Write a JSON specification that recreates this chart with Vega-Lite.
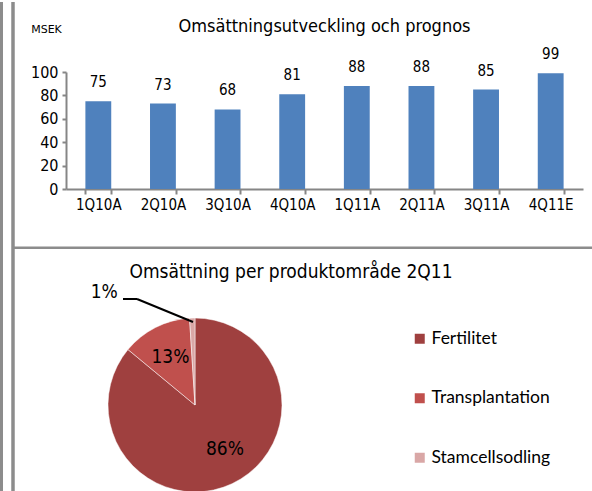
{
  "$schema": "https://vega.github.io/schema/vega-lite/v6.json",
  "padding": 0,
  "spacing": 128,
  "bounds": "flush",
  "background": "#ffffff",
  "config": {
    "view": {"stroke": null},
    "font": "DejaVu Sans Condensed, DejaVu Sans"
  },
  "vconcat": [
    {
      "width": 517,
      "height": 117,
      "title": {
        "text": "Omsättningsutveckling och prognos",
        "font": "DejaVu Sans Condensed, DejaVu Sans",
        "fontSize": 18,
        "fontWeight": "normal",
        "color": "#000000",
        "anchor": "middle",
        "offset": 0,
        "dy": 13
      },
      "data": {
        "values": [
          {"kvartal": "1Q10A", "msek": 75},
          {"kvartal": "2Q10A", "msek": 73},
          {"kvartal": "3Q10A", "msek": 68},
          {"kvartal": "4Q10A", "msek": 81},
          {"kvartal": "1Q11A", "msek": 88},
          {"kvartal": "2Q11A", "msek": 88},
          {"kvartal": "3Q11A", "msek": 85},
          {"kvartal": "4Q11E", "msek": 99}
        ]
      },
      "encoding": {
        "x": {
          "field": "kvartal",
          "type": "ordinal",
          "sort": null,
          "scale": {"paddingInner": 0.6, "paddingOuter": 0.3},
          "axis": {
            "title": null,
            "labelAngle": 0,
            "labelFont": "DejaVu Sans Condensed, DejaVu Sans",
            "labelFontSize": 15,
            "labelColor": "#000000",
            "labelPadding": 3,
            "domainColor": "#868686",
            "domainWidth": 2,
            "tickColor": "#868686",
            "tickWidth": 2,
            "tickSize": 5,
            "tickBand": "extent"
          }
        },
        "y": {
          "field": "msek",
          "type": "quantitative",
          "scale": {"domain": [0, 100]},
          "axis": {
            "values": [0, 20, 40, 60, 80, 100],
            "grid": false,
            "labelFont": "DejaVu Sans Condensed, DejaVu Sans",
            "labelFontSize": 16,
            "labelColor": "#000000",
            "labelPadding": 4,
            "domainColor": "#868686",
            "domainWidth": 2,
            "tickColor": "#868686",
            "tickWidth": 2,
            "tickSize": 4,
            "title": "MSEK",
            "titleAngle": 0,
            "titleFont": "DejaVu Sans",
            "titleFontSize": 11,
            "titleFontWeight": "normal",
            "titleColor": "#000000",
            "titleAlign": "center",
            "titleBaseline": "middle",
            "titleX": -20,
            "titleY": -43
          }
        }
      },
      "layer": [
        {"mark": {"type": "bar", "color": "#4f81bd"}},
        {
          "mark": {
            "type": "text",
            "baseline": "alphabetic",
            "dy": -14,
            "font": "DejaVu Sans Condensed, DejaVu Sans",
            "fontSize": 15,
            "color": "#000000"
          },
          "encoding": {"text": {"field": "msek", "type": "quantitative"}}
        }
      ]
    },
    {
      "width": 258,
      "height": 176,
      "title": {
        "text": "Omsättning per produktområde 2Q11",
        "font": "DejaVu Sans Condensed, DejaVu Sans",
        "fontSize": 19,
        "fontWeight": "normal",
        "color": "#000000",
        "anchor": "middle",
        "offset": 0,
        "dx": 96,
        "dy": 282
      },
      "data": {
        "values": [
          {"omrade": "Fertilitet", "andel": 0.86},
          {"omrade": "Transplantation", "andel": 0.13},
          {"omrade": "Stamcellsodling", "andel": 0.01}
        ]
      },
      "layer": [
        {
          "mark": {"type": "arc", "outerRadius": 87, "stroke": "#ffffff", "strokeWidth": 0.5},
          "encoding": {
            "theta": {"field": "andel", "type": "quantitative", "stack": true},
            "order": {"field": "andel", "sort": "descending"},
            "color": {
              "field": "omrade",
              "type": "nominal",
              "scale": {
                "domain": ["Fertilitet", "Transplantation", "Stamcellsodling"],
                "range": ["#9f403f", "#c0504d", "#d9a7a6"]
              },
              "legend": {
                "title": null,
                "orient": "none",
                "legendX": 345,
                "legendY": 258,
                "padding": 0,
                "symbolType": "square",
                "symbolSize": 100,
                "symbolStrokeWidth": 0,
                "labelFont": "Lato",
                "labelFontSize": 17.5,
                "labelColor": "#000000",
                "labelOffset": 3,
                "rowPadding": 40.5
              }
            }
          }
        },
        {
          "mark": {
            "type": "text",
            "radius": 54,
            "font": "DejaVu Sans Condensed, DejaVu Sans",
            "fontSize": 19,
            "color": "#000000",
            "baseline": "middle"
          },
          "encoding": {
            "theta": {"field": "andel", "type": "quantitative", "stack": true},
            "order": {"field": "andel", "sort": "descending"},
            "text": {
              "condition": {"test": "datum.omrade === 'Transplantation'", "field": "andel", "type": "quantitative", "format": ".0%"},
              "value": ""
            }
          }
        },
        {
          "mark": {
            "type": "text",
            "radius": 54,
            "dx": 7,
            "dy": -5,
            "font": "DejaVu Sans Condensed, DejaVu Sans",
            "fontSize": 19,
            "color": "#000000",
            "baseline": "middle"
          },
          "encoding": {
            "theta": {"field": "andel", "type": "quantitative", "stack": true},
            "order": {"field": "andel", "sort": "descending"},
            "text": {
              "condition": {"test": "datum.omrade === 'Fertilitet'", "field": "andel", "type": "quantitative", "format": ".0%"},
              "value": ""
            }
          }
        },
        {
          "mark": {
            "type": "text",
            "radius": 120,
            "dx": -87,
            "dy": 7,
            "font": "DejaVu Sans Condensed, DejaVu Sans",
            "fontSize": 19,
            "color": "#000000",
            "baseline": "middle"
          },
          "encoding": {
            "theta": {"field": "andel", "type": "quantitative", "stack": true},
            "order": {"field": "andel", "sort": "descending"},
            "text": {
              "condition": {"test": "datum.omrade === 'Stamcellsodling'", "field": "andel", "type": "quantitative", "format": ".0%"},
              "value": ""
            }
          }
        },
        {
          "data": {"values": [{"del": "ledare"}]},
          "mark": {"type": "rule", "color": "#000000", "strokeWidth": 2},
          "encoding": {
            "x": {"value": 57}, "x2": {"value": 71},
            "y": {"value": -18}, "y2": {"value": -18}
          }
        },
        {
          "data": {"values": [{"del": "ledare"}]},
          "mark": {"type": "rule", "color": "#000000", "strokeWidth": 2},
          "encoding": {
            "x": {"value": 71}, "x2": {"value": 127},
            "y": {"value": -18}, "y2": {"value": 5}
          }
        },
        {
          "data": {"values": [{"del": "ram"}]},
          "mark": {"type": "rule", "color": "#8c8c8c", "strokeWidth": 3},
          "encoding": {
            "x": {"value": -64.5}, "x2": {"value": -64.5},
            "y": {"value": -315}, "y2": {"value": 176}
          }
        },
        {
          "data": {"values": [{"del": "ram"}]},
          "mark": {"type": "rule", "color": "#8c8c8c", "strokeWidth": 3.5},
          "encoding": {
            "x": {"value": -53}, "x2": {"value": -53},
            "y": {"value": -315}, "y2": {"value": 176}
          }
        },
        {
          "data": {"values": [{"del": "ram"}]},
          "mark": {"type": "rule", "color": "#8c8c8c", "strokeWidth": 2.5},
          "encoding": {
            "x": {"value": -53}, "x2": {"value": 526},
            "y": {"value": -69.3}, "y2": {"value": -69.3}
          }
        }
      ]
    }
  ]
}
